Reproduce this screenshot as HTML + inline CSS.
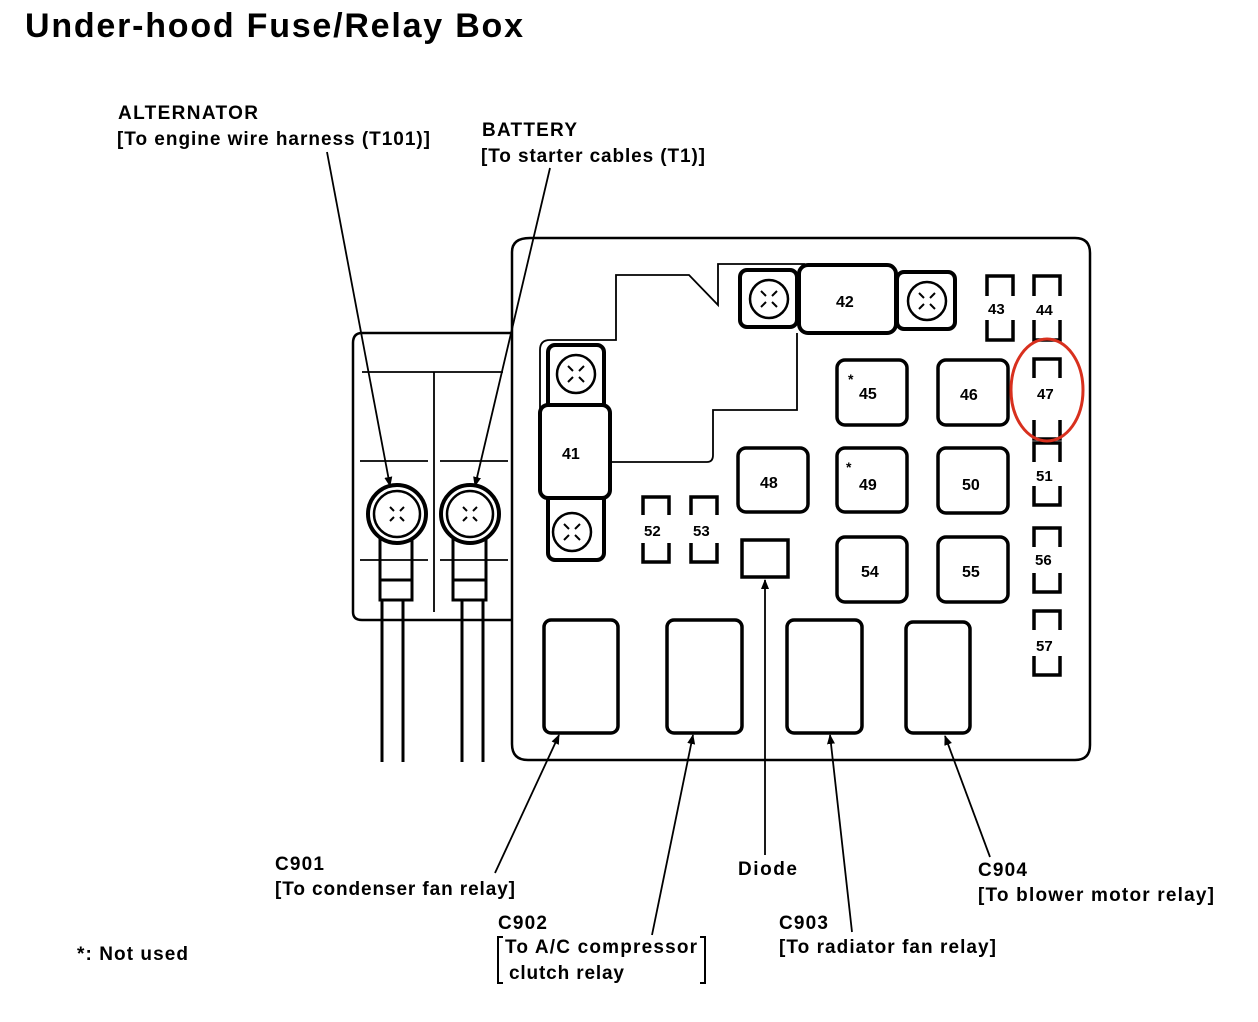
<!DOCTYPE html>
<html><head><meta charset="utf-8"><style>
html,body{margin:0;padding:0;background:#fff;}
svg{display:block;}
text{font-family:"Liberation Sans",Arial,sans-serif;font-weight:bold;fill:#000;}
</style></head><body>
<svg width="1258" height="1022" viewBox="0 0 1258 1022" xmlns="http://www.w3.org/2000/svg">
<defs>
<marker id="ah" markerWidth="10" markerHeight="14" refX="9" refY="5" orient="auto" markerUnits="userSpaceOnUse" viewBox="0 0 10 10">
<path d="M0,1 L10,5 L0,9 z" fill="#000"/></marker>
<g id="scr"><circle r="19" fill="#fff" stroke="#000" stroke-width="2.5"/>
<path d="M-8,-8 L-3,-3 M8,-8 L3,-3 M-8,8 L-3,3 M8,8 L3,3" stroke="#000" stroke-width="2"/></g>
</defs>
<text x="25" y="37" font-size="34" textLength="498" lengthAdjust="spacing">Under-hood Fuse/Relay Box</text>

<g fill="none" stroke="#000" stroke-width="2.5">
<path d="M512,333 L362,333 Q353,333 353,343 L353,612 Q353,620 362,620 L512,620"/>
<path d="M512,252 Q512,238 530,238 L1075,238 Q1090,238 1090,253 L1090,745 Q1090,760 1075,760 L528,760 Q512,760 512,744 Z"/>
</g>
<g stroke="#000" stroke-width="1.8" fill="none">
<line x1="362" y1="372" x2="503" y2="372"/>
<line x1="434" y1="372" x2="434" y2="612"/>
<line x1="360" y1="461" x2="428" y2="461"/><line x1="440" y1="461" x2="508" y2="461"/>
<line x1="360" y1="560" x2="428" y2="560"/><line x1="440" y1="560" x2="508" y2="560"/>
<path d="M540,462 L540,350 Q540,340 550,340 L616,340 L616,275 L689,275 L718,305 L718,264 L805,264"/>
<path d="M609,462 L707,462 Q713,462 713,455 L713,410 L797,410 L797,333"/>
</g>
<g stroke="#000" fill="#fff">
<g transform="translate(397,514)"><circle r="29" stroke-width="4"/><circle r="23" stroke-width="2.5"/>
<path d="M-7,-7 L-3,-3 M7,-7 L3,-3 M-7,7 L-3,3 M7,7 L3,3" stroke-width="2"/></g>
<g transform="translate(470,514)"><circle r="29" stroke-width="4"/><circle r="23" stroke-width="2.5"/>
<path d="M-7,-7 L-3,-3 M7,-7 L3,-3 M-7,7 L-3,3 M7,7 L3,3" stroke-width="2"/></g>
</g>
<g stroke="#000" stroke-width="3" fill="none">
<path d="M380,539 L380,600 L412,600 L412,539"/><line x1="380" y1="580" x2="412" y2="580"/>
<path d="M453,539 L453,600 L486,600 L486,539"/><line x1="453" y1="580" x2="486" y2="580"/>
<line x1="382" y1="600" x2="382" y2="762"/><line x1="403" y1="600" x2="403" y2="762"/>
<line x1="462" y1="600" x2="462" y2="762"/><line x1="483" y1="600" x2="483" y2="762"/>
</g>
<g stroke="#000" stroke-width="4" fill="#fff">
<rect x="548" y="345" width="56" height="70" rx="7"/>
<rect x="548" y="488" width="56" height="72" rx="7"/>
<rect x="540" y="405" width="70" height="93" rx="8"/>
<rect x="740" y="270" width="57" height="57" rx="7"/>
<rect x="897" y="272" width="58" height="57" rx="7"/>
<rect x="799" y="265" width="97" height="68" rx="9"/>
</g>
<use href="#scr" x="576" y="374"/><use href="#scr" x="572" y="532"/>
<use href="#scr" x="769" y="299"/><use href="#scr" x="927" y="301"/>
<text x="562" y="459" font-size="16">41</text>
<text x="836" y="307" font-size="16">42</text>
<g stroke="#000" stroke-width="3.5" fill="none">
<rect x="837" y="360" width="70" height="65" rx="8"/>
<rect x="938" y="360" width="70" height="65" rx="8"/>
<rect x="738" y="448" width="70" height="64" rx="8"/>
<rect x="837" y="448" width="70" height="64" rx="8"/>
<rect x="938" y="448" width="70" height="65" rx="8"/>
<rect x="837" y="537" width="70" height="65" rx="8"/>
<rect x="938" y="537" width="70" height="65" rx="8"/>
<rect x="742" y="540" width="46" height="37"/>
<rect x="544" y="620" width="74" height="113" rx="7"/>
<rect x="667" y="620" width="75" height="113" rx="7"/>
<rect x="787" y="620" width="75" height="113" rx="7"/>
<rect x="906" y="622" width="64" height="111" rx="7"/>
</g>
<g font-size="16">
<text x="859" y="399">45</text><text x="848" y="384" font-size="14">*</text>
<text x="960" y="400">46</text>
<text x="760" y="488">48</text>
<text x="859" y="490">49</text><text x="846" y="472" font-size="14">*</text>
<text x="962" y="490">50</text>
<text x="861" y="577">54</text><text x="962" y="577">55</text>
</g>
<g stroke="#000" stroke-width="3.5" fill="none">
<path d="M987,296 L987,276 L1013,276 L1013,296 M987,320 L987,340 L1013,340 L1013,320"/>
<path d="M1034,296 L1034,276 L1060,276 L1060,296 M1034,320 L1034,340 L1060,340 L1060,320"/>
<path d="M1034,378 L1034,359 L1060,359 L1060,378 M1034,420 L1034,439 L1060,439 L1060,420"/>
<path d="M1034,462 L1034,443 L1060,443 L1060,462 M1034,486 L1034,505 L1060,505 L1060,486"/>
<path d="M1034,547 L1034,528 L1060,528 L1060,547 M1034,573 L1034,592 L1060,592 L1060,573"/>
<path d="M1034,630 L1034,611 L1060,611 L1060,630 M1034,656 L1034,675 L1060,675 L1060,656"/>
<path d="M643,515 L643,497 L669,497 L669,515 M643,543 L643,562 L669,562 L669,543"/>
<path d="M691,515 L691,497 L717,497 L717,515 M691,543 L691,562 L717,562 L717,543"/>
</g>
<g font-size="15">
<text x="988" y="314">43</text><text x="1036" y="315">44</text>
<text x="1037" y="399">47</text><text x="1036" y="481">51</text>
<text x="1035" y="565">56</text><text x="1036" y="651">57</text>
<text x="644" y="536">52</text><text x="693" y="536">53</text>
</g>
<ellipse cx="1047" cy="390" rx="36" ry="51" fill="none" stroke="#d8301e" stroke-width="3"/>
<g stroke="#000" stroke-width="1.8" fill="none" marker-end="url(#ah)">
<line x1="327" y1="152" x2="390" y2="486"/>
<line x1="550" y1="168" x2="475" y2="486"/>
<line x1="495" y1="873" x2="559" y2="735"/>
<line x1="652" y1="935" x2="693" y2="735"/>
<line x1="765" y1="855" x2="765" y2="580"/>
<line x1="852" y1="932" x2="830" y2="735"/>
<line x1="990" y1="857" x2="945" y2="736"/>
</g>
<g font-size="19">
<text x="118" y="119" textLength="140" lengthAdjust="spacing">ALTERNATOR</text>
<text x="117" y="145" textLength="313" lengthAdjust="spacing">[To engine wire harness (T101)]</text>
<text x="482" y="136" textLength="95" lengthAdjust="spacing">BATTERY</text>
<text x="481" y="162" textLength="224" lengthAdjust="spacing">[To starter cables (T1)]</text>
<text x="275" y="870" textLength="49" lengthAdjust="spacing">C901</text>
<text x="275" y="895" textLength="240" lengthAdjust="spacing">[To condenser fan relay]</text>
<text x="498" y="929" textLength="49" lengthAdjust="spacing">C902</text>
<text x="505" y="953" textLength="192" lengthAdjust="spacing">To A/C compressor</text>
<text x="509" y="979" textLength="115" lengthAdjust="spacing">clutch relay</text>
<text x="738" y="875" textLength="59" lengthAdjust="spacing">Diode</text>
<text x="779" y="929" textLength="49" lengthAdjust="spacing">C903</text>
<text x="779" y="953" textLength="217" lengthAdjust="spacing">[To radiator fan relay]</text>
<text x="978" y="876" textLength="49" lengthAdjust="spacing">C904</text>
<text x="978" y="901" textLength="236" lengthAdjust="spacing">[To blower motor relay]</text>
<text x="77" y="960" textLength="111" lengthAdjust="spacing">*: Not used</text>
</g>
<path d="M503,937 L498,937 L498,983 L503,983 M700,937 L705,937 L705,983 L700,983" stroke="#000" stroke-width="2" fill="none"/>
</svg>
</body></html>
